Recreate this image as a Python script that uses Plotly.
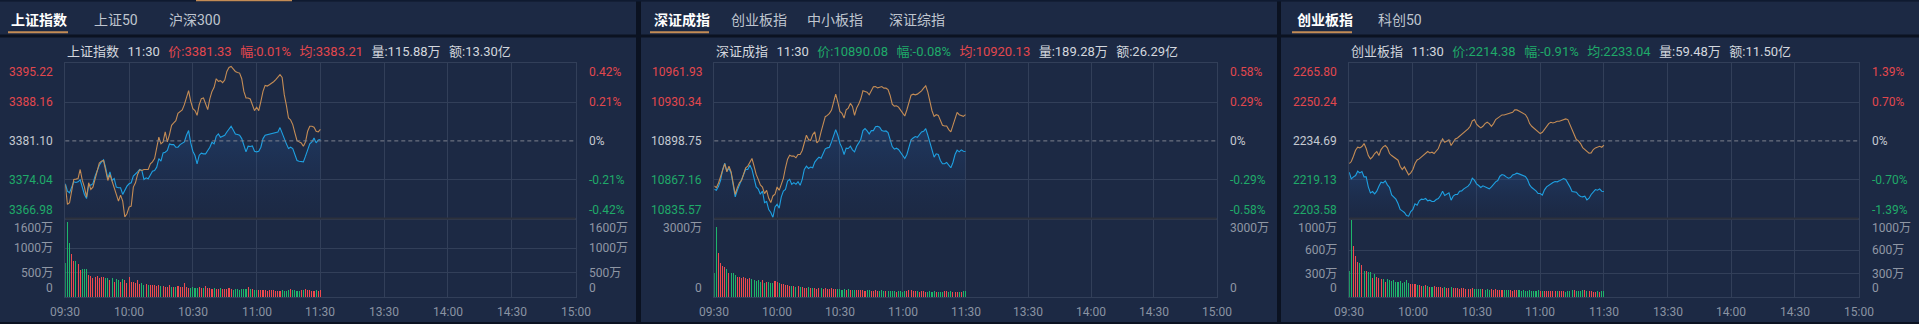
import plotly.graph_objects as go

W, H = 1919, 324

# ---------------- data ----------------
minutes = list(range(121))  # 09:30 .. 11:30, one point per minute
tick_minutes = [0, 30, 60, 90, 120, 150, 180, 210, 240]
tick_labels = ["09:30", "10:00", "10:30", "11:00", "11:30", "13:30", "14:00", "14:30", "15:00"]

# 上证指数
sh_price = [3373.30, 3371.97, 3371.66, 3372.57, 3373.66, 3373.54, 3373.66, 3374.02, 3372.69, 3371.36,
            3370.63, 3373.05, 3373.05, 3373.30, 3374.69, 3375.90, 3376.68, 3377.29, 3377.65, 3376.20,
            3374.26, 3375.47, 3373.90, 3374.26, 3372.69, 3372.57, 3372.57, 3371.36, 3372.27, 3372.87,
            3373.30, 3373.48, 3374.69, 3375.17, 3375.47, 3375.90, 3375.72, 3374.08, 3374.38, 3374.20,
            3374.99, 3375.59, 3375.72, 3376.32, 3377.89, 3377.41, 3378.92, 3379.04, 3379.35, 3380.56,
            3380.43, 3380.43, 3379.95, 3379.95, 3380.43, 3380.74, 3380.92, 3382.13, 3382.98, 3380.74,
            3379.22, 3378.44, 3376.93, 3378.50, 3378.86, 3378.74, 3378.74, 3379.35, 3379.95, 3380.86,
            3380.56, 3381.95, 3382.37, 3381.77, 3381.95, 3382.13, 3382.73, 3383.34, 3383.76, 3383.10,
            3382.37, 3382.25, 3382.13, 3381.52, 3380.31, 3379.10, 3380.13, 3380.07, 3380.19, 3379.22,
            3379.10, 3379.22, 3379.95, 3381.52, 3382.13, 3382.25, 3382.37, 3382.49, 3382.61, 3382.73,
            3382.73, 3383.52, 3382.49, 3381.28, 3380.56, 3379.71, 3379.95, 3379.71, 3378.62, 3377.53,
            3377.41, 3377.41, 3377.29, 3378.32, 3379.53, 3380.56, 3380.92, 3381.64, 3380.74, 3381.28,
            3381.33]
sh_avg = [3373.17, 3369.54, 3369.85, 3371.66, 3374.08, 3374.14, 3374.26, 3375.90, 3373.90, 3372.69,
          3370.88, 3373.48, 3372.27, 3372.69, 3374.26, 3375.72, 3377.05, 3377.41, 3377.53, 3375.72,
          3373.90, 3374.99, 3373.90, 3372.69, 3371.36, 3370.15, 3371.24, 3370.15, 3367.25, 3367.85,
          3369.06, 3369.24, 3372.69, 3373.48, 3374.99, 3375.84, 3375.72, 3375.90, 3375.90, 3375.90,
          3376.93, 3377.29, 3377.89, 3379.53, 3381.77, 3380.56, 3380.92, 3382.73, 3380.92, 3382.25,
          3383.94, 3384.37, 3384.79, 3386.12, 3386.48, 3386.73, 3387.69, 3388.90, 3390.24, 3388.30,
          3386.97, 3386.61, 3385.76, 3387.69, 3388.78, 3388.90, 3387.82, 3386.79, 3388.78, 3390.11,
          3390.84, 3392.41, 3391.93, 3392.05, 3391.69, 3392.17, 3393.74, 3394.47, 3394.65, 3394.23,
          3393.74, 3393.56, 3393.44, 3392.41, 3390.11, 3388.90, 3388.90, 3388.72, 3387.82, 3386.61,
          3387.21, 3386.61, 3388.30, 3390.11, 3391.20, 3391.08, 3391.32, 3391.57, 3391.87, 3392.23,
          3392.78, 3393.14, 3392.66, 3389.51, 3387.57, 3385.27, 3384.91, 3384.06, 3382.55, 3381.16,
          3380.92, 3380.74, 3380.13, 3380.92, 3382.85, 3383.76, 3383.76, 3383.58, 3382.85, 3382.73,
          3383.21]
sh_vol = [690, 1536, 1110, 880, 730, 745, 677, 555, 575, 568, 575, 453, 440, 400, 420,
          440, 400, 420, 420, 385, 385, 352, 385, 318, 365, 352, 318, 365, 352, 298,
          420, 318, 318, 298, 352, 270, 285, 260, 270, 255,
          250, 240, 255, 230, 245, 225, 235, 215, 210, 240,
          215, 205, 200, 225, 210, 200, 298, 210, 195, 190,
          200, 190, 185, 205, 180, 190, 230, 185, 180, 175,
          195, 170, 165, 185, 175, 160, 170, 180, 165, 155,
          170, 160, 150, 175, 165, 160, 200, 175, 165, 150,
          155, 150, 145, 150, 140, 135, 150, 140, 145, 135,
          130, 125, 140, 135, 130, 145, 160, 150, 140, 130,
          135, 145, 150, 160, 150, 140, 135, 130, 140, 125, 150]
sh_levels = [3395.22, 3388.16, 3381.10, 3374.04, 3366.98]
sh_pct = ["0.42%", "0.21%", "0%", "-0.21%", "-0.42%"]
sh_vol_levels = [1600, 1000, 500, 0]
sh_vol_labels = ["1600万", "1000万", "500万", "0"]
sh_tabs = ["上证指数", "上证50", "沪深300"]
sh_info = ["上证指数", "11:30", "3381.33", "0.01%", "3383.21", "115.88万", "13.30亿"]

# 深证成指
sz_price = [10859.33, 10858.52, 10861.76, 10866.62, 10875.53, 10880.66, 10874.18, 10876.34, 10872.83, 10862.03,
            10853.12, 10858.52, 10862.84, 10867.43, 10872.83, 10875.53, 10875.53, 10879.04, 10875.53, 10868.24,
            10861.22, 10859.60, 10855.28, 10857.98, 10848.53, 10849.34, 10842.86, 10840.43, 10836.38, 10845.02,
            10847.18, 10843.94, 10853.12, 10857.98, 10859.33, 10866.08, 10867.43, 10863.38, 10864.73, 10863.38,
            10865.54, 10862.57, 10867.43, 10875.53, 10878.23, 10876.34, 10877.42, 10876.88, 10881.47, 10883.63,
            10885.52, 10884.71, 10888.22, 10892.27, 10893.08, 10893.62, 10897.94, 10902.53, 10907.93, 10903.34,
            10896.86, 10893.08, 10887.68, 10892.81, 10892.54, 10894.43, 10891.46, 10889.84, 10894.43, 10897.13,
            10900.10, 10907.12, 10908.74, 10906.85, 10904.42, 10907.12, 10907.12, 10910.36, 10910.63, 10909.82,
            10907.12, 10906.58, 10906.85, 10905.50, 10900.64, 10894.16, 10892.00, 10892.81, 10891.73, 10889.30,
            10887.41, 10884.44, 10887.68, 10893.62, 10899.56, 10901.18, 10902.26, 10901.72, 10903.61, 10906.04,
            10906.58, 10908.74, 10903.34, 10897.13, 10891.73, 10885.52, 10888.22, 10887.68, 10882.82, 10880.12,
            10880.12, 10881.20, 10879.04, 10876.88, 10881.20, 10887.68, 10891.19, 10889.84, 10891.46, 10890.38,
            10890.08]
sz_avg = [10862.03, 10860.68, 10864.46, 10869.32, 10875.53, 10880.12, 10873.64, 10878.23, 10873.64, 10864.73,
          10855.28, 10860.68, 10864.73, 10866.62, 10872.02, 10876.88, 10878.23, 10880.93, 10884.44, 10878.23,
          10871.48, 10867.43, 10862.84, 10861.22, 10855.82, 10858.52, 10852.04, 10848.53, 10853.93, 10855.28,
          10861.22, 10858.52, 10863.92, 10868.24, 10876.88, 10883.90, 10887.14, 10886.33, 10886.33, 10884.98,
          10887.68, 10887.68, 10890.92, 10897.40, 10903.34, 10899.83, 10899.02, 10903.88, 10906.04, 10897.13,
          10899.02, 10906.04, 10911.44, 10918.46, 10919.54, 10921.16, 10923.86, 10929.53, 10936.82, 10930.34,
          10922.78, 10921.16, 10917.38, 10924.13, 10925.48, 10929.26, 10926.83, 10919.54, 10925.48, 10928.72,
          10933.04, 10939.52, 10938.98, 10938.44, 10936.28, 10939.52, 10942.76, 10943.03, 10941.95, 10942.49,
          10943.03, 10941.68, 10941.68, 10940.60, 10935.74, 10928.72, 10927.10, 10927.37, 10926.29, 10923.86,
          10921.16, 10919.00, 10924.13, 10930.34, 10936.01, 10936.82, 10936.28, 10936.82, 10937.90, 10939.52,
          10941.68, 10943.57, 10938.44, 10929.26, 10923.32, 10918.73, 10920.08, 10919.54, 10915.22, 10911.44,
          10910.90, 10910.90, 10907.93, 10906.04, 10911.44, 10917.38, 10921.97, 10920.08, 10919.54, 10918.73,
          10920.13]
sz_vol = [911, 2658, 1671, 1316, 1190, 1165, 1063, 911, 937, 911, 848, 760, 785, 722, 760,
          735, 700, 735, 700, 650, 620, 650, 600, 640, 560, 600, 590, 560, 540, 610,
          580, 560, 520, 500, 470, 460, 420, 440, 430, 400,
          420, 380, 400, 370, 360, 380, 360, 340, 350, 330,
          370, 340, 330, 350, 320, 330, 340, 320, 300, 310,
          300, 290, 310, 280, 300, 290, 280, 270, 260, 280,
          270, 260, 250, 270, 260, 240, 250, 260, 240, 250,
          260, 250, 240, 230, 250, 240, 230, 220, 240, 230,
          220, 230, 250, 270, 260, 240, 250, 230, 220, 240,
          230, 220, 210, 230, 220, 240, 210, 200, 220, 210,
          230, 250, 220, 240, 210, 200, 220, 200, 190, 230, 240]
sz_levels = [10961.93, 10930.34, 10898.75, 10867.16, 10835.57]
sz_pct = ["0.58%", "0.29%", "0%", "-0.29%", "-0.58%"]
sz_vol_levels = [3000, 0]
sz_vol_labels = ["3000万", "0"]
sz_tabs = ["深证成指", "创业板指", "中小板指", "深证综指"]
sz_info = ["深证成指", "11:30", "10890.08", "-0.08%", "10920.13", "189.28万", "26.29亿"]

# 创业板指
cy_price = [2222.14, 2219.47, 2220.27, 2220.81, 2222.54, 2221.87, 2222.41, 2220.27, 2220.27, 2216.27,
            2213.86, 2214.40, 2213.46, 2214.53, 2216.53, 2218.14, 2217.87, 2218.67, 2217.07, 2216.00,
            2213.06, 2212.13, 2211.33, 2209.59, 2207.19, 2206.65, 2205.99, 2204.79, 2204.52, 2206.39,
            2207.19, 2209.46, 2208.92, 2210.66, 2211.33, 2211.19, 2211.59, 2210.66, 2210.93, 2210.39,
            2210.39, 2211.19, 2211.59, 2212.80, 2214.53, 2212.80, 2213.33, 2213.86, 2210.93, 2212.53,
            2213.20, 2213.20, 2214.53, 2214.66, 2215.47, 2215.87, 2216.53, 2217.60, 2219.74, 2218.94,
            2217.47, 2216.80, 2216.00, 2216.67, 2216.27, 2215.87, 2215.47, 2216.27, 2217.33, 2218.27,
            2218.80, 2220.54, 2221.21, 2220.94, 2220.27, 2219.74, 2220.00, 2221.07, 2221.34, 2221.74,
            2221.47, 2221.21, 2220.94, 2220.41, 2219.20, 2217.07, 2216.00, 2215.47, 2214.66, 2213.60,
            2213.60, 2212.93, 2215.07, 2216.27, 2216.93, 2217.60, 2218.00, 2218.40, 2218.27, 2218.67,
            2219.20, 2219.60, 2219.20, 2217.87, 2216.27, 2214.40, 2214.40, 2214.13, 2213.06, 2212.40,
            2212.26, 2212.53, 2211.06, 2211.73, 2213.20, 2214.13, 2215.20, 2214.93, 2215.47, 2214.53,
            2214.38]
cy_avg = [2225.61, 2226.41, 2228.55, 2230.95, 2232.15, 2231.89, 2232.42, 2233.62, 2231.62, 2228.82,
          2227.48, 2228.28, 2229.62, 2230.42, 2228.82, 2231.22, 2232.29, 2232.82, 2231.89, 2229.62,
          2228.82, 2228.28, 2227.75, 2226.95, 2224.54, 2223.21, 2224.28, 2222.94, 2221.07, 2221.87,
          2223.21, 2225.61, 2227.08, 2227.48, 2228.28, 2228.82, 2229.62, 2230.42, 2229.88, 2230.15,
          2229.62, 2230.42, 2231.62, 2233.89, 2235.49, 2234.16, 2234.69, 2235.09, 2232.82, 2234.42,
          2235.49, 2235.89, 2236.56, 2237.36, 2237.89, 2238.56, 2239.50, 2240.56, 2242.70, 2243.23,
          2241.37, 2240.56, 2239.90, 2240.56, 2241.63, 2242.17, 2241.63, 2240.56, 2241.63, 2243.23,
          2243.90, 2244.70, 2245.10, 2245.10, 2245.37, 2245.64, 2245.64, 2246.17, 2247.11, 2247.11,
          2246.71, 2246.30, 2245.77, 2245.24, 2243.90, 2241.63, 2240.56, 2239.90, 2239.23, 2238.56,
          2237.63, 2238.16, 2239.50, 2240.83, 2241.63, 2242.17, 2241.90, 2242.17, 2242.57, 2242.57,
          2242.97, 2243.10, 2243.50, 2243.23, 2241.23, 2238.96, 2236.56, 2235.22, 2234.69, 2233.62,
          2232.02, 2231.22, 2230.55, 2229.75, 2229.88, 2231.22, 2231.89, 2232.29, 2232.55, 2232.15,
          2233.04]
cy_vol = [328, 979, 647, 519, 443, 434, 404, 340, 340, 319, 319, 243, 298, 255, 243,
          230, 234, 200, 230, 220, 205, 215, 200, 190, 210, 185, 200, 215, 185, 175,
          170, 165, 160, 150, 145, 140, 155, 140, 135, 130,
          140, 130, 125, 130, 120, 125, 115, 120, 125, 115,
          120, 115, 110, 118, 112, 105, 110, 100, 115, 108,
          105, 110, 100, 105, 95, 100, 98, 105, 95, 100,
          95, 90, 98, 92, 88, 95, 90, 85, 90, 88,
          92, 85, 88, 80, 85, 90, 82, 85, 80, 88,
          85, 80, 82, 78, 85, 80, 75, 82, 78, 80,
          75, 78, 72, 80, 85, 90, 88, 82, 80, 85,
          88, 90, 85, 80, 75, 70, 72, 78, 70, 75, 80]
cy_levels = [2265.80, 2250.24, 2234.69, 2219.13, 2203.58]
cy_pct = ["1.39%", "0.70%", "0%", "-0.70%", "-1.39%"]
cy_vol_levels = [1000, 600, 300, 0]
cy_vol_labels = ["1000万", "600万", "300万", "0"]
cy_tabs = ["创业板指", "科创50"]
cy_info = ["创业板指", "11:30", "2214.38", "-0.91%", "2233.04", "59.48万", "11.50亿"]

# ---------------- style ----------------
FONT = "Roboto, 'Noto Sans CJK SC', sans-serif"
BG_DARK = "#0b1221"
PANEL = "#1c2944"
GRID = "#323f59"
SEP = "#2c313c"
RED = "#e2474d"
GREEN = "#1faa69"
BAR_RED = "#ee4a4e"
BAR_GREEN = "#1eb56b"
MID = "#c5cad2"
AXG = "#9097a4"
TXT = "#d3d7de"
GOLD = "#c48c55"
BLUE = "#1ea0e1"

PT, PB, VB = 63.3, 218.5, 297.3  # pixel rows: price top, price bottom, volume bottom

panels = [
    dict(price=sh_price, avg=sh_avg, vol=sh_vol, levels=sh_levels, pct=sh_pct,
         vlevels=sh_vol_levels, vlabels=sh_vol_labels, tabs=sh_tabs, info=sh_info,
         x0=0, x1=636, pl=65.3, pr=575.5, labl=54.5, labr=586.5,
         tabx=[9, 92, 167], ul=(8, 68)),
    dict(price=sz_price, avg=sz_avg, vol=sz_vol, levels=sz_levels, pct=sz_pct,
         vlevels=sz_vol_levels, vlabels=sz_vol_labels, tabs=sz_tabs, info=sz_info,
         x0=641, x1=1277, pl=714.3, pr=1216.7, labl=704, labr=1227.8,
         tabx=[652, 729, 805, 886.5], ul=(650, 709)),
    dict(price=cy_price, avg=cy_avg, vol=cy_vol, levels=cy_levels, pct=cy_pct,
         vlevels=cy_vol_levels, vlabels=cy_vol_labels, tabs=cy_tabs, info=cy_info,
         x0=1281, x1=1919, pl=1349.2, pr=1858.6, labl=1339, labr=1870,
         tabx=[1294.5, 1376], ul=(1292, 1352)),
]


def px(x):
    return x / W


def py(y):
    return 1 - y / H


fig = go.Figure()
layout = dict(width=W, height=H, margin=dict(l=0, r=0, t=0, b=0),
              paper_bgcolor=BG_DARK, plot_bgcolor="rgba(0,0,0,0)",
              showlegend=False, hovermode=False, bargap=0)
shapes = []
anns = []


def text(t, x, y, xanchor="left", yanchor="middle", size=12, color=AXG,
         xref="paper", yref="paper"):
    anns.append(dict(text=t, x=x, y=y, xref=xref, yref=yref, xanchor=xanchor,
                     yanchor=yanchor, showarrow=False,
                     font=dict(size=size, color=color, family=FONT)))


def rect(x0, y0, x1, y1, color, layer="below"):
    shapes.append(dict(type="rect", xref="paper", yref="paper", x0=px(x0), x1=px(x1),
                       y0=py(y1), y1=py(y0), fillcolor=color, line=dict(width=0), layer=layer))


# top strip
rect(0, 0, W, 1.5, "#0f1a30")
rect(196, 0, 292, 1.5, GOLD)

for i, p in enumerate(panels):
    n_p, n_v = 2 * i + 1, 2 * i + 2
    xp = "x" if n_p == 1 else f"x{n_p}"
    yp = "y" if n_p == 1 else f"y{n_p}"
    xv, yv = f"x{n_v}", f"y{n_v}"
    lv = p["levels"]
    vmax = p["vlevels"][0]

    # panel background + separator band
    rect(p["x0"], 1.5, p["x1"], 322, PANEL)
    rect(p["x0"], 34.5, p["x1"], 37.5, BG_DARK)

    # tabs
    for k, (t, tx) in enumerate(zip(p["tabs"], p["tabx"])):
        if k == 0:
            text(f"<b>{t}</b>", px(tx), py(20), size=14, color="#ffffff")
        else:
            text(t, px(tx), py(20), size=14, color="#bfc5cf")
    rect(p["ul"][0], 31.3, p["ul"][1], 33.3, GOLD)

    # info line
    name, tm, pr_, chg, av, vol_, amt = p["info"]
    prev = lv[2]
    c_pr = RED if float(pr_) >= prev else GREEN
    c_av = RED if float(av) >= prev else GREEN
    gap = "<span style='font-size:17px'>&nbsp;&nbsp;</span>"
    info = (f"<span style='color:{TXT}'>{name}</span>{gap}<span style='color:{TXT}'>{tm}</span>{gap}"
            f"<span style='color:{c_pr}'>价:{pr_}</span>{gap}<span style='color:{c_pr}'>幅:{chg}</span>{gap}"
            f"<span style='color:{c_av}'>均:{av}</span>{gap}<span style='color:{TXT}'>量:{vol_}</span>{gap}"
            f"<span style='color:{TXT}'>额:{amt}</span>")
    text(info, px(p["pl"]), py(49.5), size=13, color=TXT)

    common_x = dict(range=[0, 240], tickvals=tick_minutes, showticklabels=False, showgrid=True,
                    gridcolor=GRID, gridwidth=1, zeroline=False, showline=True, mirror=True,
                    linecolor=GRID, linewidth=1, fixedrange=True, ticks="")
    layout["xaxis" if n_p == 1 else f"xaxis{n_p}"] = dict(
        common_x, domain=[px(p["pl"]), px(p["pr"])], anchor=yp)
    layout[f"xaxis{n_v}"] = dict(common_x, domain=[px(p["pl"]), px(p["pr"])], anchor=yv)
    layout["yaxis" if n_p == 1 else f"yaxis{n_p}"] = dict(
        domain=[py(PB), py(PT)], range=[lv[-1], lv[0]], tickvals=[lv[1], lv[3]],
        showticklabels=False, showgrid=True, gridcolor=GRID, zeroline=False,
        showline=True, mirror=True, linecolor=GRID, anchor=xp, fixedrange=True, ticks="")
    layout[f"yaxis{n_v}"] = dict(
        domain=[py(VB), py(PB)], range=[0, vmax], tickvals=p["vlevels"][1:-1],
        showticklabels=False, showgrid=True, gridcolor=GRID, zeroline=False,
        showline=True, mirror=True, linecolor=GRID, anchor=xv, fixedrange=True, ticks="")

    # price line with soft gradient fill, average line
    fig.add_trace(go.Scatter(
        x=minutes, y=p["price"], xaxis=xp, yaxis=yp, mode="lines",
        line=dict(color=BLUE, width=1.1), fill="tozeroy",
        fillgradient=dict(type="vertical", start=lv[-1], stop=max(p["price"]),
                          colorscale=[[0, "rgba(30,60,110,0)"], [1, "rgba(38,88,155,0.32)"]])))
    fig.add_trace(go.Scatter(
        x=minutes, y=p["avg"], xaxis=xp, yaxis=yp, mode="lines",
        line=dict(color=GOLD, width=1.1)))

    # volume bars, coloured by minute-on-minute change
    colors = []
    for m, v in enumerate(p["price"]):
        ref = p["price"][m - 1] if m > 0 else prev
        colors.append(BAR_RED if v >= ref else BAR_GREEN)
    fig.add_trace(go.Bar(x=minutes, y=p["vol"], xaxis=xv, yaxis=yv, width=0.5,
                         marker=dict(color=colors, line=dict(width=0))))

    # dashed previous close line
    shapes.append(dict(type="line", xref=f"{xp} domain", x0=0, x1=1, yref=yp, y0=prev, y1=prev,
                       line=dict(color="#7d838f", width=1, dash="4px,3px"), layer="above"))
    # price / volume separator
    shapes.append(dict(type="line", xref="paper", yref="paper", x0=px(p["pl"]), x1=px(p["pr"]),
                       y0=py(PB), y1=py(PB), line=dict(color=SEP, width=2), layer="above"))

    # price labels (left) and percent labels (right)
    lab_cols = [RED, RED, MID, GREEN, GREEN]
    anchors = ["top", "middle", "middle", "middle", "bottom"]
    for k in range(5):
        text(f"{lv[k]:.2f}", px(p["labl"]), lv[k], xanchor="right", yanchor=anchors[k],
             color=lab_cols[k], yref=yp)
        text(p["pct"][k], px(p["labr"]), lv[k], xanchor="left", yanchor=anchors[k],
             color=lab_cols[k], yref=yp)
    # volume labels
    nv = len(p["vlevels"])
    for k, (vl, vt) in enumerate(zip(p["vlevels"], p["vlabels"])):
        ya = "top" if k == 0 else ("bottom" if k == nv - 1 else "middle")
        text(vt, px(p["labl"]), vl, xanchor="right", yanchor=ya, yref=yv)
        text(vt, px(p["labr"]), vl, xanchor="left", yanchor=ya, yref=yv)
    # time labels
    for tmn, tl in zip(tick_minutes, tick_labels):
        text(tl, tmn, py(311.7), xanchor="center", xref=xv, color="#8a93a2")

layout["shapes"] = shapes
layout["annotations"] = anns
fig.update_layout(**layout)

fig.write_html("out.html", config=dict(displayModeBar=False, staticPlot=True),
               post_script="document.body.style.margin='0';")
